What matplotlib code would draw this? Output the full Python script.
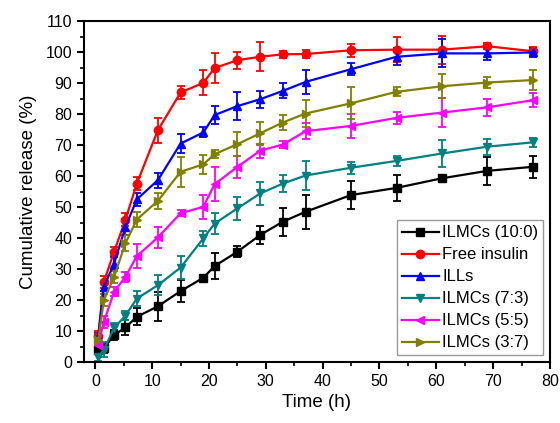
import matplotlib.pyplot as plt
from matplotlib.ticker import MultipleLocator

plt.rcParams['font.family'] = ['Liberation Sans', 'DejaVu Sans']

# sampling times (h)
time = [0.5, 1.5, 3.3, 5.3, 7.3, 11, 15, 19, 21, 25, 29, 33, 37, 45, 53, 61, 69, 77]

ilmc_10_0 = [3.9, 4.5, 8.7, 11.2, 14.6, 18.0, 22.9, 27.2, 31.0, 35.6, 41.0, 45.3, 48.5, 53.9, 56.2, 59.3, 61.7, 63.0]
ilmc_10_0_err = [1.0, 1.5, 1.5, 2.5, 2.7, 4.7, 3.6, 1.0, 4.3, 1.7, 2.8, 4.5, 5.4, 4.4, 4.3, 1.0, 4.6, 3.6]

free_insulin = [8.5, 25.9, 35.6, 46.0, 57.6, 74.8, 87.0, 90.1, 94.9, 97.4, 98.5, 99.3, 99.4, 100.6, 100.8, 100.8, 101.9, 100.3]
free_insulin_err = [1.5, 2.0, 1.5, 2.0, 2.0, 4.0, 2.1, 4.0, 4.7, 2.7, 4.7, 1.2, 1.3, 2.1, 4.0, 4.5, 1.0, 1.3]

ills = [8.0, 24.3, 31.8, 43.6, 52.5, 58.7, 70.5, 74.1, 79.7, 82.6, 84.8, 87.5, 90.4, 94.5, 98.5, 99.6, 99.6, 99.9]
ills_err = [1.5, 1.5, 2.0, 2.5, 2.0, 2.4, 3.2, 1.6, 2.9, 4.6, 2.8, 2.4, 4.0, 2.0, 2.7, 4.5, 2.2, 1.5]

ilmc_7_3 = [1.5, 4.0, 11.0, 15.0, 20.5, 24.8, 30.5, 39.9, 44.7, 49.6, 54.4, 57.6, 60.2, 62.7, 64.9, 67.3, 69.5, 70.9]
ilmc_7_3_err = [1.0, 2.5, 1.5, 1.5, 2.3, 3.2, 3.7, 2.4, 3.3, 3.7, 3.8, 2.8, 4.7, 2.0, 1.5, 4.3, 2.6, 1.5]

ilmc_5_5 = [5.5, 13.0, 22.7, 27.5, 34.2, 40.2, 48.0, 50.1, 57.4, 63.0, 68.2, 70.2, 74.5, 76.2, 78.8, 80.5, 82.2, 84.5]
ilmc_5_5_err = [1.5, 2.0, 1.5, 1.5, 4.0, 3.5, 1.0, 3.9, 5.4, 3.5, 2.3, 1.1, 2.6, 4.0, 1.9, 4.7, 2.7, 2.3]

ilmc_3_7 = [7.0, 20.0, 27.5, 38.4, 46.0, 52.0, 61.4, 63.8, 67.1, 70.3, 73.8, 77.3, 80.2, 83.5, 87.2, 89.0, 90.2, 91.0]
ilmc_3_7_err = [1.5, 2.0, 2.0, 2.5, 2.5, 2.5, 4.8, 3.0, 1.3, 3.8, 3.7, 2.4, 4.3, 5.2, 1.5, 3.9, 1.7, 3.3]

series = [
    ('ILMCs (10:0)', ilmc_10_0, ilmc_10_0_err, 'black', 's'),
    ('Free insulin', free_insulin, free_insulin_err, '#ff0000', 'o'),
    ('ILLs', ills, ills_err, '#0000ff', '^'),
    ('ILMCs (7:3)', ilmc_7_3, ilmc_7_3_err, '#008080', 'v'),
    ('ILMCs (5:5)', ilmc_5_5, ilmc_5_5_err, '#ff00ff', '<'),
    ('ILMCs (3:7)', ilmc_3_7, ilmc_3_7_err, '#808000', '>'),
]

fig = plt.figure(figsize=(5.6, 4.23), dpi=100)
ax = fig.add_axes([0.15, 0.144, 0.832, 0.806])

handles = []
for label, vals, err, col, mk in series:
    c = ax.errorbar(time, vals, yerr=err, color=col, marker=mk, markersize=6,
                    linewidth=1.6, elinewidth=1.3, capsize=3, capthick=1.3, label=label)
    handles.append(c.lines[0])

ax.set_xlim(-2, 80)
ax.set_ylim(0, 110)
ax.xaxis.set_major_locator(MultipleLocator(10))
ax.xaxis.set_minor_locator(MultipleLocator(5))
ax.yaxis.set_major_locator(MultipleLocator(10))
ax.yaxis.set_minor_locator(MultipleLocator(5))
ax.tick_params(which='major', direction='out', length=5, width=1.5, labelsize=11.5)
ax.tick_params(which='minor', direction='out', length=3, width=1.2)
for sp in ax.spines.values():
    sp.set_linewidth(1.5)

ax.set_xlabel('Time (h)', fontsize=13.5)
ax.set_ylabel('Cumulative release (%)', fontsize=13.5, labelpad=6)

leg = ax.legend(handles, [s[0] for s in series], loc='lower right', fontsize=12,
                frameon=True, fancybox=False, edgecolor='gray', handlelength=2.2,
                handletextpad=0.2, labelspacing=0.42, borderpad=0.3, borderaxespad=0.4)
leg.get_frame().set_linewidth(1.0)

fig.savefig('out.png', dpi=100)
